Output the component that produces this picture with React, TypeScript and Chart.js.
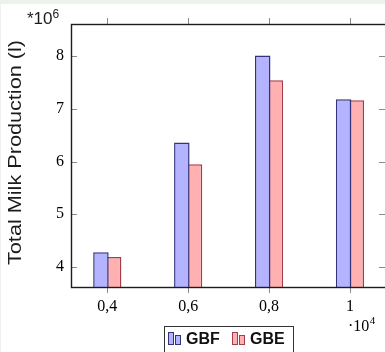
import { useEffect, useRef } from "react";
import { Chart, registerables } from "chart.js";

Chart.register(...registerables);

// ---- data ----
const xPositions = [0.4, 0.6, 0.8, 1.0];
const xTickLabels = ["0,4", "0,6", "0,8", "1"];
const yTicks = [4, 5, 6, 7, 8];
const yTickLabels = ["4", "5", "6", "7", "8"];
const gbfValues = [4.28, 6.36, 8.01, 7.18];
const gbeValues = [4.19, 5.95, 7.54, 7.16];
const seriesNames = ["GBF", "GBE"];
const yTitle = "Total Milk Production (l)";
const yScaleBase = "*10";
const yScaleExp = "6";
const xScaleBase = "·10";
const xScaleExp = "4";

// ---- style ----
const BLUE_FILL = "#b3b3ff";
const BLUE_LINE = "#33337a";
const RED_FILL = "#ffb0b0";
const RED_LINE = "#a23f48";
const SANS = '"Liberation Sans", Arial, sans-serif';
const SERIF = '"Liberation Serif", "Times New Roman", serif';

const decorPlugin = {
  id: "decor",
  beforeDraw(chart: any) {
    const { ctx, width, height } = chart;
    ctx.save();
    ctx.fillStyle = "#edf3ec";
    ctx.fillRect(0, 0, width, height);
    ctx.fillStyle = "#ffffff";
    ctx.fillRect(1, 4, width - 1, height - 4);
    ctx.restore();
  },
  afterDraw(chart: any) {
    const { ctx, chartArea: a, scales } = chart;
    const xs = scales.x;
    const ys = scales.y;
    ctx.save();
    // tick marks
    ctx.strokeStyle = "#8a8a8a";
    ctx.lineWidth = 1;
    ctx.beginPath();
    for (const v of yTicks) {
      const py = Math.round(ys.getPixelForValue(v)) + 0.5;
      ctx.moveTo(a.left, py);
      ctx.lineTo(a.left + 6, py);
      ctx.moveTo(a.right - 6, py);
      ctx.lineTo(a.right, py);
    }
    for (const v of xPositions) {
      const px = Math.round(xs.getPixelForValue(v)) + 0.5;
      ctx.moveTo(px, a.bottom);
      ctx.lineTo(px, a.bottom + 6);
      ctx.moveTo(px, a.top - 6);
      ctx.lineTo(px, a.top);
    }
    ctx.stroke();
    // frame
    ctx.strokeStyle = "#1c1c1c";
    ctx.lineWidth = 1.4;
    ctx.strokeRect(a.left + 0.5, a.top + 0.5, a.right - a.left + 1, a.bottom - a.top);

    // y axis title (rotated)
    ctx.fillStyle = "#1c1c1c";
    ctx.save();
    ctx.font = "18px " + SANS;
    const w = ctx.measureText(yTitle).width;
    ctx.translate(21, 152.5);
    ctx.rotate(-Math.PI / 2);
    ctx.scale(225 / w, 1);
    ctx.textAlign = "center";
    ctx.textBaseline = "alphabetic";
    ctx.fillText(yTitle, 0, 0);
    ctx.restore();

    // y multiplier
    ctx.textAlign = "left";
    ctx.textBaseline = "alphabetic";
    ctx.font = "17px " + SANS;
    ctx.fillText(yScaleBase, 27, 24);
    const bw = ctx.measureText(yScaleBase).width;
    ctx.font = "12px " + SANS;
    ctx.fillText(yScaleExp, 27 + bw, 18);

    // x multiplier
    ctx.fillStyle = "#000";
    ctx.font = "16px " + SERIF;
    ctx.fillText(xScaleBase, 348, 331);
    const xw = ctx.measureText(xScaleBase).width;
    ctx.font = "11px " + SERIF;
    ctx.fillText(xScaleExp, 348 + xw + 0.5, 324);

    // legend
    ctx.fillStyle = "#ffffff";
    ctx.fillRect(164.5, 326.5, 129, 40);
    ctx.strokeStyle = "#333";
    ctx.lineWidth = 1;
    ctx.strokeRect(164.5, 326.5, 129, 40);
    const items = [
      { x: 168, name: seriesNames[0], fill: BLUE_FILL, line: BLUE_LINE },
      { x: 232, name: seriesNames[1], fill: RED_FILL, line: RED_LINE },
    ];
    ctx.font = "bold 16px " + SANS;
    for (const it of items) {
      ctx.fillStyle = it.fill;
      ctx.strokeStyle = it.line;
      ctx.lineWidth = 1;
      ctx.fillRect(it.x + 0.5, 332.5, 5, 12);
      ctx.strokeRect(it.x + 0.5, 332.5, 5, 12);
      ctx.fillRect(it.x + 7.5, 335.5, 5, 9);
      ctx.strokeRect(it.x + 7.5, 335.5, 5, 9);
      ctx.fillStyle = "#111";
      ctx.fillText(it.name, it.x + 18, 344);
    }
    ctx.restore();
  },
};

export default function App() {
  const ref = useRef<HTMLCanvasElement | null>(null);
  useEffect(() => {
    document.body.style.margin = "0";
    const canvas = ref.current!;
    const chart = new Chart(canvas, {
      type: "bar",
      data: {
        datasets: [
          {
            label: seriesNames[0],
            data: xPositions.map((x, i) => ({ x, y: gbfValues[i] })),
            backgroundColor: BLUE_FILL,
            borderColor: BLUE_LINE,
            borderWidth: 1.5,
            borderSkipped: false,
          },
          {
            label: seriesNames[1],
            data: xPositions.map((x, i) => ({ x, y: gbeValues[i] })),
            backgroundColor: RED_FILL,
            borderColor: RED_LINE,
            borderWidth: 1.5,
            borderSkipped: false,
          },
        ],
      },
      options: {
        responsive: false,
        animation: false,
        devicePixelRatio: 1,
        categoryPercentage: 0.314,
        barPercentage: 1.22,
        layout: { padding: { top: 24, right: 0, left: 0, bottom: 0 } },
        plugins: { legend: { display: false }, tooltip: { enabled: false } },
        scales: {
          x: {
            type: "linear",
            offset: false,
            min: 0.3103,
            max: 1.0866,
            grid: { display: false, drawTicks: false, offset: false },
            border: { display: false },
            afterBuildTicks: (s: any) => {
              s.ticks = xPositions.map((v) => ({ value: v }));
            },
            afterFit: (s: any) => {
              s.height = 65;
            },
            ticks: {
              padding: 10,
              maxRotation: 0,
              autoSkip: false,
              color: "#000",
              font: { family: SERIF, size: 16 },
              callback: (v: any) => {
                const i = xPositions.findIndex((p) => Math.abs(p - Number(v)) < 1e-6);
                return i >= 0 ? xTickLabels[i] : "";
              },
            },
          },
          y: {
            type: "linear",
            min: 3.621,
            max: 8.607,
            grid: { display: false, drawTicks: false },
            border: { display: false },
            afterBuildTicks: (s: any) => {
              s.ticks = yTicks.map((v) => ({ value: v }));
            },
            afterFit: (s: any) => {
              s.width = 71;
            },
            ticks: {
              padding: 7,
              autoSkip: false,
              color: "#000",
              font: { family: SERIF, size: 16 },
              callback: (v: any) => {
                const i = yTicks.findIndex((p) => Math.abs(p - Number(v)) < 1e-6);
                return i >= 0 ? yTickLabels[i] : "";
              },
            },
          },
        },
      },
      plugins: [decorPlugin],
    } as any);
    return () => chart.destroy();
  }, []);
  return (
    <canvas
      ref={ref}
      width={385}
      height={352}
      style={{ display: "block", width: 385, height: 352 }}
    />
  );
}
